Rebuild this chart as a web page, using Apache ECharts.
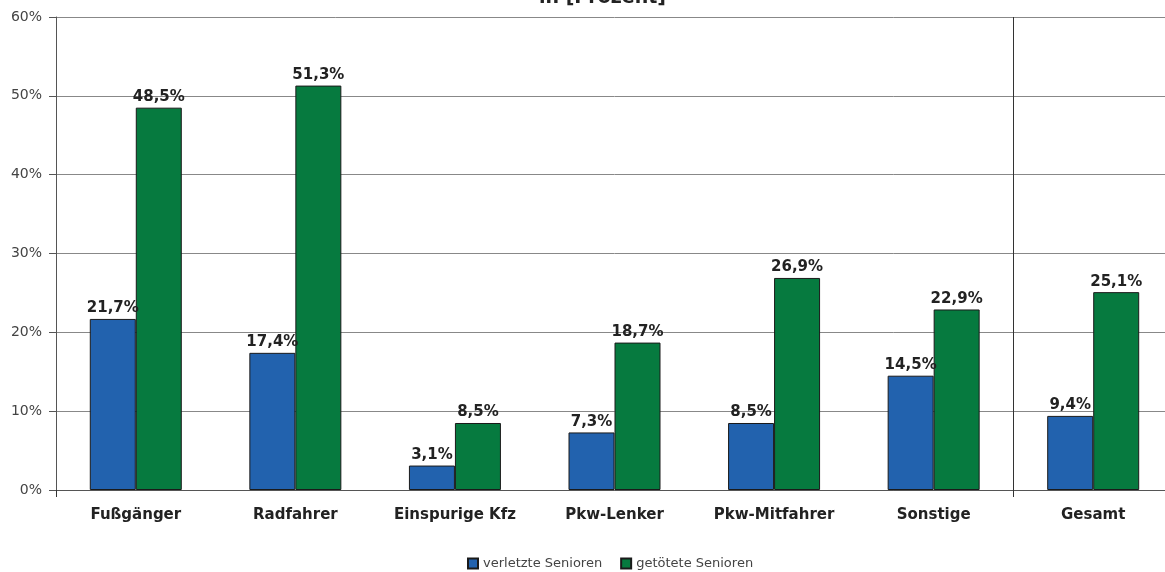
<!DOCTYPE html>
<html><head><meta charset="utf-8">
<script src="https://cdn.jsdelivr.net/npm/echarts@6/dist/echarts.min.js"></script>
<style>html,body{margin:0;padding:0;background:#fff;overflow:hidden}#c{width:1173px;height:572px}</style>
</head><body><div id="c"></div>
<script>
const categories = ['Fußgänger','Radfahrer','Einspurige Kfz','Pkw-Lenker','Pkw-Mitfahrer','Sonstige','Gesamt'];
const verletzte = [21.7, 17.4, 3.1, 7.3, 8.5, 14.5, 9.4];
const getoetete = [48.5, 51.3, 8.5, 18.7, 26.9, 22.9, 25.1];
const yTicks = [0, 10, 20, 30, 40, 50, 60];
const seriesNames = ['verletzte Senioren', 'getötete Senioren'];
const separatorAt = [6];

const fmt = v => v.toFixed(1).replace('.', ',') + '%';
const chart = echarts.init(document.getElementById('c'), null, {renderer: 'canvas'});
const labelStyle = {show: true, position: 'top', distance: 3, fontFamily: 'DejaVu Sans', fontWeight: 'bold', fontSize: 15, color: '#222', formatter: p => fmt(p.value)};
chart.setOption({
  animation: false,
  title: {text: 'in [Prozent]', left: 534, top: -16, textStyle: {fontFamily: 'DejaVu Sans', fontWeight: 'bold', fontSize: 19, color: '#222'}},
  legend: {bottom: -3, left: 462, itemWidth: 10, itemHeight: 10, itemGap: 18, icon: 'rect',
    textStyle: {fontFamily: 'DejaVu Sans', fontSize: 13, color: '#444'}, data: seriesNames},
  grid: {left: 56, right: 0, top: 17, bottom: 82, containLabel: false},
  xAxis: [{type: 'category', data: categories,
    axisLine: {lineStyle: {color: '#555', width: 1}},
    axisTick: {show: true, length: 7, interval: (i) => i === 0 || i === 6, lineStyle: {color: '#333'}},
    splitLine: {show: false},
    axisLabel: {interval: 0, margin: 18, fontFamily: 'DejaVu Sans', fontWeight: 'bold', fontSize: 15, color: '#222'}},
    {type: 'value', min: 0, max: categories.length, show: false}],
  yAxis: {type: 'value', min: 0, max: 60, interval: 10,
    axisLine: {show: true, lineStyle: {color: '#555'}},
    axisTick: {show: true, length: 7, lineStyle: {color: '#555'}},
    splitLine: {lineStyle: {color: '#888', width: 1}},
    axisLabel: {margin: 14, fontFamily: 'DejaVu Sans', fontSize: 14, color: '#444', formatter: v => yTicks.includes(v) ? v + '%' : ''}},
  series: [
    {name: seriesNames[0], type: 'bar', data: verletzte, barWidth: 46, barGap: '0%',
      itemStyle: {color: '#2262AE', borderColor: '#1a1a1a', borderWidth: 1}, label: labelStyle},
    {name: seriesNames[1], type: 'bar', data: getoetete, barWidth: 46,
      itemStyle: {color: '#067A3F', borderColor: '#1a1a1a', borderWidth: 1}, label: labelStyle},
    {type: 'line', xAxisIndex: 1, data: [], silent: true,
      markLine: {symbol: 'none', silent: true, label: {show: false},
        lineStyle: {color: '#333', width: 1, type: 'solid'},
        data: separatorAt.map(x => ({xAxis: x}))}}
  ]
});
</script></body></html>
